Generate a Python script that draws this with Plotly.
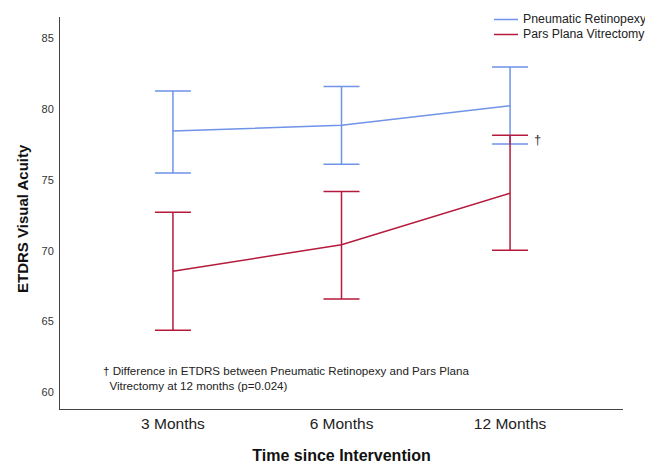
import plotly.graph_objects as go

categories = ["3 Months", "6 Months", "12 Months"]
pr_mean = [78.45, 78.85, 80.24]
pr_upper = [81.28, 81.6, 82.97]
pr_lower = [75.49, 76.1, 77.54]
ppv_mean = [68.55, 70.42, 74.05]
ppv_upper = [72.71, 74.17, 78.15]
ppv_lower = [64.38, 66.59, 70.03]
y_ticks = [60, 65, 70, 75, 80, 85]
series_names = ["Pneumatic Retinopexy", "Pars Plana Vitrectomy"]

BLUE = "#6f93e8"
RED = "#b51a3c"
xs = [0, 1, 2]

# page body has an 8px margin: figure is drawn at (8, 8)
OFF = 8
L, T, PW, PH = 60 - OFF, 17 - OFF, 563, 392
W, H = 653 - OFF, 464 - OFF

def px(xi):  # image x -> paper
    return (xi - OFF - L) / PW

def py(yi):  # image y -> paper
    return (T + PH - (yi - OFF)) / PH

fig = go.Figure()
for name, mean, up, lo, col in [
    (series_names[0], pr_mean, pr_upper, pr_lower, BLUE),
    (series_names[1], ppv_mean, ppv_upper, ppv_lower, RED),
]:
    fig.add_trace(go.Scatter(
        x=xs, y=mean, mode="lines", name=name, showlegend=False,
        line=dict(color=col, width=1.5),
        error_y=dict(type="data", symmetric=False,
                     array=[u - m for u, m in zip(up, mean)],
                     arrayminus=[m - l for m, l in zip(mean, lo)],
                     color=col, thickness=1.5, width=18),
    ))

# legend drawn manually
for i, (name, col) in enumerate(zip(series_names, [BLUE, RED])):
    yy = 19.5 + 15 * i
    fig.add_shape(type="line", xref="paper", yref="paper",
                  x0=px(494), x1=px(518), y0=py(yy), y1=py(yy),
                  line=dict(color=col, width=1.5))
    fig.add_annotation(x=px(521), y=py(yy), xref="paper", yref="paper",
                       xanchor="left", yanchor="middle", text=name, showarrow=False,
                       font=dict(size=12.3, color="#222"))

fig.add_annotation(x=2, y=(pr_lower[2] + ppv_upper[2]) / 2, xref="x", yref="y", text="†",
                   showarrow=False, xshift=27, yshift=0,
                   font=dict(size=13, color="#333"))
fig.add_annotation(x=px(101), y=py(377.5), xref="paper", yref="paper",
                   xanchor="left", yanchor="middle", align="left",
                   text="† Difference in ETDRS between Pneumatic Retinopexy and Pars Plana<br>&nbsp;&nbsp;Vitrectomy at 12 months (p=0.024)",
                   showarrow=False, font=dict(size=11.6, color="#222"))

# y axis title
fig.add_annotation(x=px(22), y=py(219), xref="paper", yref="paper",
                   xanchor="center", yanchor="middle", textangle=-90,
                   text="<b>ETDRS Visual Acuity</b>", showarrow=False,
                   font=dict(size=15, color="#111"))

fig.update_layout(
    width=W, height=H,
    margin=dict(l=L, r=W - L - PW, t=T, b=H - T - PH, autoexpand=False),
    plot_bgcolor="white", paper_bgcolor="white",
    font=dict(family="Liberation Sans, Arial, sans-serif", color="#222"),
    showlegend=False,
)
fig.update_xaxes(range=[-0.67, 2.67], tickvals=xs, ticktext=categories,
                 showline=True, linecolor="#444", linewidth=1, showgrid=False,
                 ticks="", tickfont=dict(size=15.5, color="#222"), automargin=False,
                 title=dict(text="<b>Time since Intervention</b>", font=dict(size=16, color="#111"), standoff=21),
                 zeroline=False, mirror=False)
fig.update_yaxes(range=[58.82, 86.5], tickvals=y_ticks,
                 showline=True, linecolor="#444", linewidth=1, showgrid=False,
                 ticks="", tickfont=dict(size=11, color="#333"), automargin=False,
                 ticklabelstandoff=3,
                 zeroline=False)

fig.write_html("out.html")
